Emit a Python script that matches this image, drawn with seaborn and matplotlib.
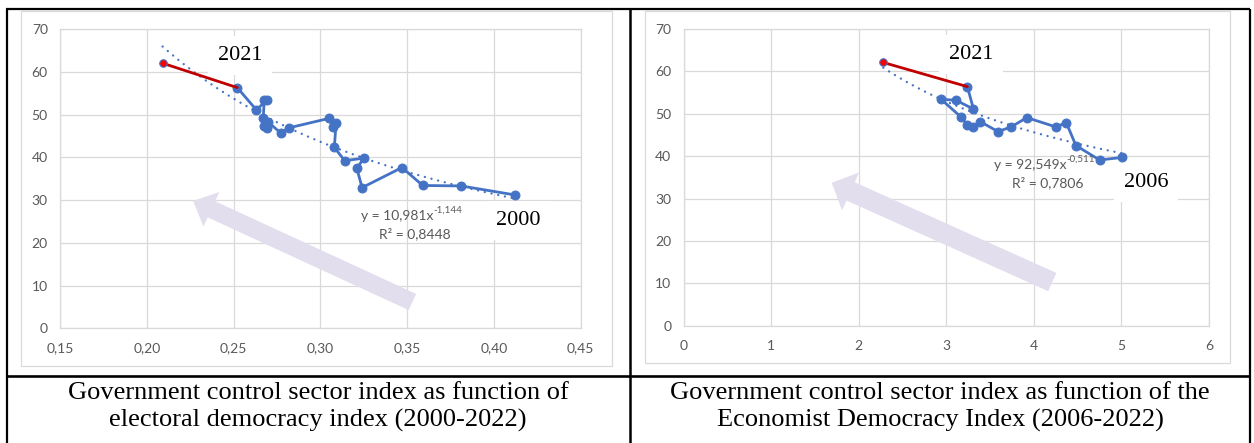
import numpy as np
import pandas as pd
import seaborn as sns
import matplotlib
matplotlib.use("Agg")
import matplotlib.pyplot as plt
from matplotlib.patches import FancyArrowPatch, ArrowStyle, Rectangle
from matplotlib.lines import Line2D

# ---------------- data ----------------
years_left = list(range(2000, 2023))
edi = [0.412, 0.381, 0.359, 0.347, 0.324, 0.321, 0.325, 0.314, 0.308, 0.309,
       0.307, 0.305, 0.282, 0.277, 0.270, 0.269, 0.2676, 0.267, 0.2676, 0.269,
       0.263, 0.252, 0.209]
gcs_left = [31.2, 33.3, 33.4, 37.6, 32.9, 37.4, 39.8, 39.2, 42.3, 47.9,
            47.0, 49.1, 46.9, 45.7, 48.2, 46.8, 47.4, 49.1, 53.4, 53.3,
            51.1, 56.3, 62.0]

years_right = list(range(2006, 2023))
eiu = [5.01, 4.75, 4.48, 4.37, 4.25, 3.92, 3.74, 3.59, 3.39, 3.31,
       3.24, 3.17, 2.94, 3.11, 3.31, 3.24, 2.28]
gcs_right = [39.7, 39.1, 42.5, 47.9, 46.9, 49.1, 46.9, 45.8, 48.1, 46.9,
             47.3, 49.2, 53.4, 53.2, 51.1, 56.4, 62.1]

xticks_left = [0.15, 0.20, 0.25, 0.30, 0.35, 0.40, 0.45]
xticklabels_left = ["0,15", "0,20", "0,25", "0,30", "0,35", "0,40", "0,45"]
xticks_right = [0, 1, 2, 3, 4, 5, 6]
xticklabels_right = ["0", "1", "2", "3", "4", "5", "6"]
yticks = [0, 10, 20, 30, 40, 50, 60, 70]
yticklabels = ["0", "10", "20", "30", "40", "50", "60", "70"]

eq_left = ("y = 10,981x", "-1,144", "R² = 0,8448")
eq_right = ("y = 92,549x", "-0,511", "R² = 0,7806")
caption_left = "Government control sector index as function of\nelectoral democracy index (2000-2022)"
caption_right = "Government control sector index as function of the\nEconomist Democracy Index (2006-2022)"

# ---------------- style ----------------
sns.set_theme(style="white")
plt.rcParams["font.family"] = ["Lato", "DejaVu Sans"]

BLUE = "#4472C4"
RED_LINE = "#C00000"
RED_PT = "#FF0000"
GRID = "#D9D9D9"
TXT = "#595959"
LAV = "#E3DEEE"
SERIF = ["Liberation Serif", "DejaVu Serif"]
W, H = 1254, 443

fig = plt.figure(figsize=(W / 100, H / 100), dpi=100)

def fig_rect(x0, y0, x1, y1):
    return [x0 / W, 1 - y1 / H, (x1 - x0) / W, (y1 - y0) / H]

# chart-area borders (light grey)
for (x0, y0, x1, y1) in [(21, 11, 611.5, 366), (644.7, 11, 1230, 363)]:
    fig.patches.append(Rectangle((x0 / W, 1 - y1 / H), (x1 - x0) / W, (y1 - y0) / H,
                                 transform=fig.transFigure, fill=False,
                                 edgecolor=GRID, lw=0.9))

ax1 = fig.add_axes(fig_rect(60.3, 29, 580.6, 328.3))
ax2 = fig.add_axes(fig_rect(683.7, 29, 1209, 325.7))


def draw(ax, xs, ys, xticks, xtl, eq, arrow, arrow_w, label_top, label_end, eqpos):
    df = pd.DataFrame({"x": xs, "y": ys})
    # trend line (power fit, as Excel does it: linear fit in log-log)
    b, a = np.polyfit(np.log(df["x"]), np.log(df["y"]), 1)
    xf = np.linspace(df["x"].min(), df["x"].max(), 200)
    yf = np.exp(a) * xf ** b
    ax.plot(xf, yf, color=BLUE, lw=1.7, linestyle=(0, (0.01, 2.9)),
            dash_capstyle="round", zorder=3)
    # main path
    main = df.iloc[:-1]
    sns.lineplot(data=main, x="x", y="y", sort=False, ax=ax, color=BLUE, lw=2.0,
                 marker="o", markersize=6.4, markeredgecolor=BLUE,
                 markerfacecolor=BLUE, zorder=4, estimator=None)
    last = df.iloc[-2:]
    sns.lineplot(data=last, x="x", y="y", sort=False, ax=ax, color=RED_LINE, lw=2.0,
                 zorder=4, estimator=None)
    ax.plot(df["x"].iloc[-1:], df["y"].iloc[-1:], "o", markersize=5.4,
            markerfacecolor=RED_PT, markeredgecolor=BLUE, markeredgewidth=0.8, zorder=5)

    # arrow
    tl, hw, hl = arrow_w
    ax.add_patch(FancyArrowPatch(arrow[0], arrow[1],
                                 arrowstyle=ArrowStyle.Simple(head_length=hl, head_width=hw, tail_width=tl),
                                 color=LAV, lw=0, shrinkA=0, shrinkB=0, zorder=2))

    ax.set_xlim(xticks[0], xticks[-1])
    ax.set_ylim(0, 70)
    ax.set_xticks(xticks)
    ax.set_xticklabels(xtl)
    ax.set_yticks(yticks)
    ax.set_yticklabels(yticklabels)
    ax.grid(True, color=GRID, lw=0.9)
    ax.set_axisbelow(True)
    for s in ax.spines.values():
        s.set_color(GRID)
        s.set_linewidth(0.9)
    ax.tick_params(axis="both", length=0, labelsize=10, labelcolor=TXT)
    ax.tick_params(axis="x", pad=10)
    ax.tick_params(axis="y", pad=9)
    ax.set_xlabel("")
    ax.set_ylabel("")
    ax.set_facecolor("white")

    # year labels
    for (px, py, s) in [label_top, label_end]:
        ax.text(px, py, s, ha="center", va="center", fontsize=16,
                family=SERIF, color="black", zorder=6,
                bbox=dict(boxstyle="square,pad=0.45", fc="white", ec="none"))
    # equation: base text + superscript exponent
    ex, ey1, ey2 = eqpos
    t1 = ax.annotate(eq[0], xy=(ex, ey1), xycoords="data", xytext=(-13, 0),
                     textcoords="offset points", ha="center", va="center",
                     fontsize=10, color=TXT, zorder=6)
    ax.annotate(eq[1], xy=(1, 0.62), xycoords=t1, xytext=(0.5, 0),
                textcoords="offset points", ha="left", va="bottom",
                fontsize=7, color=TXT, zorder=6)
    ax.text(ex, ey2, eq[2], ha="center", va="center", fontsize=10, color=TXT, zorder=6)


draw(ax1, edi, gcs_left, xticks_left, xticklabels_left, eq_left,
     arrow=((0.353, 6.15), (0.2266, 29.8)), arrow_w=(12.8, 27.4, 14.5),
     label_top=(0.2536, 63.7, "2021"), label_end=(0.4139, 25.3, "2000"),
     eqpos=(0.3544, 26.3, 22.05))
draw(ax2, eiu, gcs_right, xticks_right, xticklabels_right, eq_right,
     arrow=((4.21, 10.3), (1.69, 33.7)), arrow_w=(14.4, 30.0, 15.0),
     label_top=(3.28, 63.9, "2021"), label_end=(5.28, 33.7, "2006"),
     eqpos=(4.16, 37.9, 33.7))

# table borders
def fline(x0, y0, x1, y1, lw):
    fig.lines.append(Line2D([x0 / W, x1 / W], [1 - y0 / H, 1 - y1 / H],
                            transform=fig.transFigure, color="black", lw=lw,
                            solid_capstyle="butt"))

fline(6, 8.5, 1250, 8.5, 1.6)
fline(7, 8.5, 7, 443, 1.6)
fline(1249.5, 8.5, 1249.5, 443, 1.6)
fline(630, 8.5, 630, 443, 1.8)
fline(6, 376, 1250, 376, 1.9)

# captions
fig.text(318 / W, 1 - 407 / H, caption_left, ha="center", va="center", fontsize=19,
         family=SERIF, color="black", linespacing=1.3)
fig.text(940 / W, 1 - 407 / H, caption_right, ha="center", va="center", fontsize=19,
         family=SERIF, color="black", linespacing=1.3)

fig.savefig("out.png", dpi=100, facecolor="white")
